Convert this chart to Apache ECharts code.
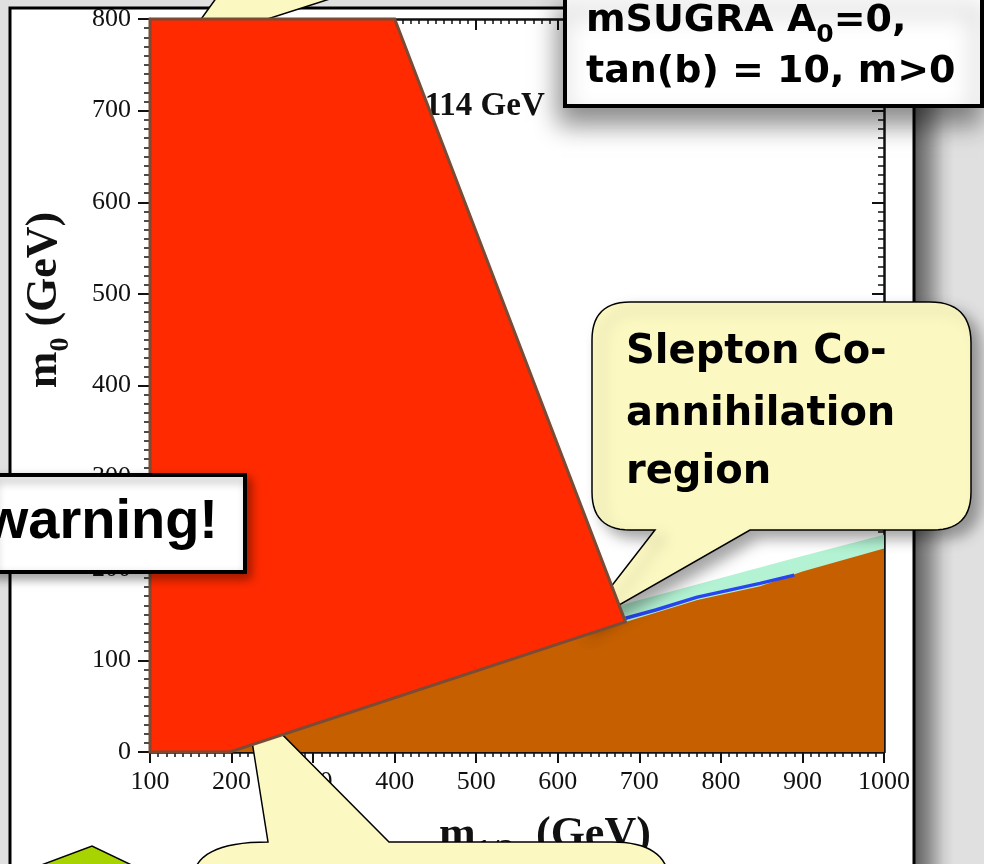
<!DOCTYPE html>
<html>
<head>
<meta charset="utf-8">
<script src="https://cdn.jsdelivr.net/npm/echarts@6/dist/echarts.min.js"></script>
<style>
html,body{margin:0;padding:0;background:#e0e0e0;}
#chart{width:984px;height:864px;}
</style>
</head>
<body>
<div id="chart"></div>
<script>
// ---- axis ranges (GeV) ----
const m12Range = [100, 1000];
const m0Range = [0, 800];
const m12Step = 100;
const m0Step = 100;

// ---- stau-LSP excluded region: upper boundary (m1/2, m0) ----
const stauX = [100, 200, 300, 400, 500, 600, 683, 771, 848, 900, 1000];
const stauY = [0, 22, 45, 70, 95, 120, 142, 166, 181, 197, 222];

// ---- slepton co-annihilation strip: upper edge ----
const coannX = [676, 700, 800, 900, 1000];
const coannY = [160, 166, 190, 214, 237];

// ---- WMAP-preferred thin line ----
const wmapX = [683, 720, 771, 848, 890];
const wmapY = [146, 155, 169, 184, 193];

// ---- red overlay (LEP / Higgs exclusion box) ----
const redX = [100, 400, 683, 198, 100];
const redY = [800, 800, 142, 0, 0];

// ---- Higgs contour label position ----
const higgsLabelX = [584];
const higgsLabelY = [705];
const higgsLabelText = ['114 GeV'];

const chart = echarts.init(document.getElementById('chart'), null, {renderer: 'canvas'});

function polygonSeries(name, xs, ys, style, z) {
  return {
    type: 'custom', name: name, z: z, silent: true,
    coordinateSystem: 'cartesian2d', xAxisIndex: 0, yAxisIndex: 0,
    data: [[xs[0], ys[0]]],
    renderItem: function (params, api) {
      return {
        type: 'polygon',
        shape: {points: xs.map(function (x, i) { return api.coord([x, ys[i]]); })},
        style: style
      };
    }
  };
}

function pathPoints(cmds) {
  const pts = []; let cx = 0, cy = 0;
  cmds.forEach(function (c) {
    if (c[0] === 'M' || c[0] === 'L') { cx = c[1]; cy = c[2]; pts.push([cx, cy]); }
    else if (c[0] === 'Q') {
      const qx = c[1], qy = c[2], x = c[3], y = c[4];
      for (let t = 1; t <= 14; t++) {
        const u = t / 14;
        pts.push([(1-u)*(1-u)*cx + 2*(1-u)*u*qx + u*u*x, (1-u)*(1-u)*cy + 2*(1-u)*u*qy + u*u*y]);
      }
      cx = x; cy = y;
    }
  });
  return pts;
}

const serifBold = {fontFamily: 'Liberation Serif', fontWeight: 'bold', fill: '#111'};
const comic = 'DejaVu Sans';
const yellow = '#fcf8c2';

const axisCommon = {
  type: 'value', min: m12Range[0], max: m12Range[1], interval: m12Step,
  splitLine: {show: false}, minorSplitLine: {show: false},
  axisLine: {show: true, onZero: false, lineStyle: {color: '#111', width: 2.5}},
  minorTick: {show: true, splitNumber: 10, length: 5, lineStyle: {color: '#111', width: 1.5}}
};
const tickFmt = function (v) { return String(v); };

const option = {
  backgroundColor: '#e0e0e0',
  animation: false,
  grid: {left: 150, top: 19, width: 734, height: 733, containLabel: false},
  xAxis: [
    Object.assign({}, axisCommon, {
      position: 'bottom',
      axisTick: {show: true, inside: false, length: 11, lineStyle: {color: '#111', width: 2}},
      axisLabel: {fontFamily: 'Liberation Serif', fontSize: 26, color: '#111', margin: 17, formatter: tickFmt}
    }),
    Object.assign({}, axisCommon, {
      position: 'top',
      axisTick: {show: true, inside: true, length: 11, lineStyle: {color: '#111', width: 2}},
      axisLabel: {show: false}
    })
  ],
  yAxis: [
    Object.assign({}, axisCommon, {
      min: m0Range[0], max: m0Range[1], interval: m0Step, position: 'left',
      axisTick: {show: true, inside: false, length: 12, lineStyle: {color: '#111', width: 2}},
      minorTick: {show: true, splitNumber: 10, length: 6, lineStyle: {color: '#111', width: 1.5}},
      axisLabel: {fontFamily: 'Liberation Serif', fontSize: 26, color: '#111', margin: 19, formatter: tickFmt}
    }),
    Object.assign({}, axisCommon, {
      min: m0Range[0], max: m0Range[1], interval: m0Step, position: 'right',
      axisTick: {show: true, inside: true, length: 12, lineStyle: {color: '#111', width: 2}},
      minorTick: {show: true, splitNumber: 10, length: 6, lineStyle: {color: '#111', width: 1.5}},
      axisLabel: {show: false}
    })
  ],
  series: [
    {
      type: 'custom', name: 'mh label', z: 1, silent: true,
      coordinateSystem: 'cartesian2d', xAxisIndex: 0, yAxisIndex: 0,
      data: higgsLabelX.map(function (x, i) { return [x, higgsLabelY[i]]; }),
      renderItem: function (params, api) {
        const p = api.coord([api.value(0), api.value(1)]);
        return {type: 'text', x: p[0], y: p[1],
          style: {text: higgsLabelText[params.dataIndex], fontFamily: 'Liberation Serif', fontWeight: 'bold',
            fontSize: 33, fill: '#111', align: 'right', verticalAlign: 'middle'}};
      }
    },
    polygonSeries('coannihilation', coannX.concat([1000, 676]), coannY.concat([0, 0]),
      {fill: '#b3f2d3'}, 2),
    polygonSeries('stau LSP', stauX.concat([1000]), stauY.concat([0]),
      {fill: '#c55f00'}, 3),
    {
      type: 'line', name: 'WMAP', z: 4, silent: true, symbol: 'none',
      data: wmapX.map(function (x, i) { return [x, wmapY[i]]; }),
      lineStyle: {color: '#2846f0', width: 3.5}
    },
    polygonSeries('excluded', redX, redY,
      {fill: '#ff2a00', stroke: '#7a4b35', lineWidth: 3, lineJoin: 'miter'}, 8)
  ],
  graphic: [
    // panel right shadow
    {type: 'rect', z: -3, silent: true, shape: {x: 914, y: 8, width: 40, height: 900},
      style: {fill: new echarts.graphic.LinearGradient(0, 0, 1, 0, [
        {offset: 0, color: '#5e5e5e'}, {offset: 0.35, color: '#8c8c8c'},
        {offset: 0.75, color: '#cfcfcf'}, {offset: 1, color: '#e0e0e0'}])}},
    // slide panel
    {type: 'rect', z: -2, silent: true, shape: {x: 10, y: 8, width: 904, height: 920},
      style: {fill: '#ffffff', stroke: '#000', lineWidth: 3}},
    // top-left callout pointer (behind red overlay)
    {type: 'polygon', z: 6, silent: true,
      shape: {points: [[217, -3], [336, -3], [202, 40], [186, 40]]},
      style: {fill: yellow, stroke: '#000', lineWidth: 1.5}},
    // Slepton co-annihilation callout
    {type: 'polygon', z: 6, silent: true,
      shape: {points: pathPoints([
        ['M', 630, 302], ['L', 930, 302], ['Q', 971, 302, 971, 343], ['L', 971, 492],
        ['Q', 971, 530, 933, 530], ['L', 750, 530], ['L', 579, 628], ['L', 655, 530],
        ['L', 630, 530], ['Q', 592, 530, 592, 492], ['L', 592, 340], ['Q', 592, 302, 630, 302]
      ])},
      style: {fill: yellow, stroke: '#000', lineWidth: 1.5,
        shadowBlur: 14, shadowOffsetX: 9, shadowOffsetY: 8, shadowColor: 'rgba(0,0,0,0.35)'}},
    {type: 'text', z: 7, silent: true, x: 626, y: 353,
      style: {text: 'Slepton Co-', fontFamily: comic, fontWeight: 'bold', fontSize: 40, fill: '#000', verticalAlign: 'middle'}},
    {type: 'text', z: 7, silent: true, x: 626, y: 415,
      style: {text: 'annihilation', fontFamily: comic, fontWeight: 'bold', fontSize: 40, fill: '#000', verticalAlign: 'middle'}},
    {type: 'text', z: 7, silent: true, x: 626, y: 473,
      style: {text: 'region', fontFamily: comic, fontWeight: 'bold', fontSize: 40, fill: '#000', verticalAlign: 'middle'}},
    // bottom callout
    {type: 'polygon', z: 6, silent: true,
      shape: {points: pathPoints([
        ['M', 194, 872], ['Q', 202, 842, 268, 842], ['L', 245, 697], ['L', 389, 842],
        ['L', 612, 842], ['Q', 660, 842, 668, 872]
      ])},
      style: {fill: yellow, stroke: '#000', lineWidth: 1.5}},
    // bottom-left green arrow
    {type: 'polygon', z: 6, silent: true,
      shape: {points: [[28, 870], [92, 846], [142, 870]]},
      style: {fill: '#a7d300', stroke: '#000', lineWidth: 1.5}},
    // top-right parameter box
    {type: 'rect', z: 10, silent: true, shape: {x: 565, y: -6, width: 417, height: 112},
      style: {fill: '#fff', stroke: '#000', lineWidth: 4,
        shadowBlur: 24, shadowOffsetX: -4, shadowOffsetY: 16, shadowColor: 'rgba(0,0,0,0.45)'}},
    {type: 'text', z: 11, silent: true, x: 586, y: 21,
      style: {text: '{a|mSUGRA A}{s|0}{a|=0,}', verticalAlign: 'middle', fill: '#000',
        rich: {
          a: {fontFamily: comic, fontWeight: 'bold', fontSize: 38, fill: '#000', lineHeight: 54},
          s: {fontFamily: comic, fontWeight: 'bold', fontSize: 25, fill: '#000', lineHeight: 54, verticalAlign: 'bottom'}
        }}},
    {type: 'text', z: 11, silent: true, x: 586, y: 72,
      style: {text: 'tan(b) = 10, m>0', fontFamily: comic, fontWeight: 'bold', fontSize: 38, fill: '#000', verticalAlign: 'middle'}},
    // warning box
    {type: 'rect', z: 10, silent: true, shape: {x: -10, y: 475, width: 255, height: 97},
      style: {fill: '#fff', stroke: '#000', lineWidth: 4,
        shadowBlur: 10, shadowOffsetX: 4, shadowOffsetY: 5, shadowColor: 'rgba(0,0,0,0.35)'}},
    {type: 'text', z: 11, silent: true, x: 218, y: 523,
      style: {text: 'warning!', fontFamily: 'Liberation Sans', fontWeight: 'bold', fontSize: 56,
        fill: '#000', align: 'right', verticalAlign: 'middle'}},
    // axis titles
    {type: 'text', z: 1, silent: true, x: 45, y: 300, rotation: Math.PI / 2,
      style: {text: '{m|m}{s|0}{m| (GeV)}', align: 'center', verticalAlign: 'middle',
        rich: {
          m: Object.assign({fontSize: 44, lineHeight: 60}, serifBold),
          s: Object.assign({fontSize: 28, lineHeight: 60, verticalAlign: 'bottom'}, serifBold)
        }}},
    {type: 'text', z: 1, silent: true, x: 439, y: 836,
      style: {text: '{m|m}{s|1/2}{m|  (GeV)}', verticalAlign: 'middle',
        rich: {
          m: Object.assign({fontSize: 44, lineHeight: 60}, serifBold),
          s: Object.assign({fontSize: 30, lineHeight: 60, verticalAlign: 'bottom'}, serifBold)
        }}}
  ]
};

chart.setOption(option);
</script>
</body>
</html>
